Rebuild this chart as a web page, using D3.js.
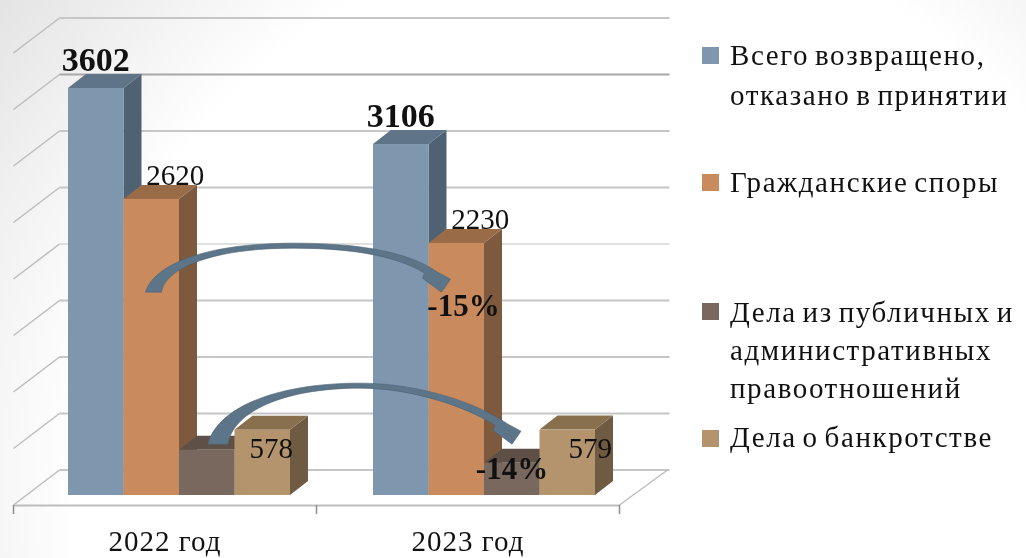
<!DOCTYPE html>
<html>
<head>
<meta charset="utf-8">
<script src="https://cdn.jsdelivr.net/npm/d3@7"></script>
<style>
  html, body { margin: 0; padding: 0; background: #fff; overflow: hidden; }
  svg { display: block; filter: blur(0.6px); }
  text { font-family: "Liberation Serif", serif; fill: #111; }
</style>
</head>
<body>
<div id="chart"></div>
<script>
// chart values
const years = ["2022 год", "2023 год"];
const seriesNames = ["total", "civil", "admin", "bankrupt"];
const total = [3602, 3106];
const civil = [2620, 2230];
const admin = [400, 285];
const bankrupt = [578, 579];
const yTicks = [0, 500, 1000, 1500, 2000, 2500, 3000, 3500, 4000];
const legendLines = [
    ["Всего возвращено,", "отказано в принятии"],
    ["Гражданские споры"],
    ["Дела из публичных и", "административных", "правоотношений"],
    ["Дела о банкротстве"]
];
const changeLabels = ["-15%", "-14%"];

const width = 1026, height = 558;
const values = [total, civil, admin, bankrupt];

// colours per series: front, top, side
const colors = [
    ["#7e97af", "#5f7489", "#4f6273"],
    ["#c98b5e", "#9a6b47", "#7d5a3d"],
    ["#78685d", "#5e5047", "#5e5047"],
    ["#b3946d", "#88704f", "#6f5b41"]
];

const svg = d3.select("#chart")
    .append("svg")
    .attr("width", width)
    .attr("height", height);

// background
const grad = svg.append("defs").append("radialGradient")
    .attr("id", "bg")
    .attr("gradientUnits", "userSpaceOnUse")
    .attr("cx", 620).attr("cy", 480).attr("r", 780);
grad.append("stop").attr("offset", "0.7").attr("stop-color", "#ffffff");
grad.append("stop").attr("offset", "1").attr("stop-color", "#e4e4e4");
svg.append("rect").attr("width", width).attr("height", height).attr("fill", "url(#bg)");

// scales
const axisLeft = 13.5, axisRight = 619.5, floorY = 505;
const wallDx = 46, wallDy = 35;
const barDx = 18, barDy = 14;

const xAxisBand = d3.scaleBand().domain(years).range([axisLeft, axisRight]);
const x0 = d3.scaleBand().domain(years).range([14, 624]);
const x1 = d3.scaleBand().domain(seriesNames).range([54, 276]);
const y = d3.scaleLinear().domain([0, 4000]).range([495, 43]);
const wallY = v => y(v) - 25;

// wall grid lines
const grid = svg.append("g");
grid.selectAll(".back")
    .data(yTicks)
    .join("line")
    .attr("x1", axisLeft + wallDx)
    .attr("x2", axisRight + 50)
    .attr("y1", wallY)
    .attr("y2", wallY)
    .attr("stroke", d => d === 3500 ? "#a8a8a8" : (d === 2000 ? "#e0e0e0" : "#c6c6c6"))
    .attr("stroke-width", 2);
grid.selectAll(".side")
    .data(yTicks)
    .join("line")
    .attr("x1", axisLeft)
    .attr("x2", axisLeft + wallDx)
    .attr("y1", d => wallY(d) + wallDy)
    .attr("y2", wallY)
    .attr("stroke", "#bdbdbd")
    .attr("stroke-width", 1.5);

// floor right edge
svg.append("line")
    .attr("x1", axisRight).attr("y1", floorY)
    .attr("x2", axisRight + 48).attr("y2", floorY - wallDy)
    .attr("stroke", "#bdbdbd").attr("stroke-width", 1.5);

// x axis, labels come from the band scale, ticks sit on the band edges
const xAxis = svg.append("g")
    .attr("transform", "translate(0," + floorY + ")")
    .call(d3.axisBottom(xAxisBand).tickSize(0).tickPadding(25));
xAxis.select(".domain").attr("stroke", "#bdbdbd").attr("stroke-width", 2);
xAxis.selectAll("text")
    .style("font-size", "29px")
    .style("font-family", "Liberation Serif")
    .style("letter-spacing", "1px");
xAxis.selectAll(".edge")
    .data([axisLeft, xAxisBand(years[1]), axisRight])
    .join("line")
    .attr("x1", d => d).attr("x2", d => d)
    .attr("y1", 0).attr("y2", 9)
    .attr("stroke", "#8c8c8c").attr("stroke-width", 1.5);

// bars
const bars = [];
years.forEach((year, i) => {
    seriesNames.forEach((s, j) => {
        bars.push({ year, s, j, value: values[j][i] });
    });
});
const barX = d => x0(d.year) + x1(d.s);
const w = x1.bandwidth();
const bar = svg.selectAll(".bar")
    .data(bars)
    .join("g")
    .attr("class", "bar");

// side face
bar.append("path")
    .attr("fill", d => colors[d.j][2])
    .attr("d", d => {
        const xr = barX(d) + w;
        return d3.line()([[xr, y(d.value)], [xr + barDx, y(d.value) - barDy], [xr + barDx, y(0) - barDy], [xr, y(0)]]) + "Z";
    });
// top face
bar.append("path")
    .attr("fill", d => colors[d.j][1])
    .attr("d", d => {
        const xl = barX(d);
        return d3.line()([[xl, y(d.value)], [xl + barDx, y(d.value) - barDy], [xl + w + barDx, y(d.value) - barDy], [xl + w, y(d.value)]]) + "Z";
    });
// front face
bar.append("rect")
    .attr("x", barX)
    .attr("y", d => y(d.value))
    .attr("width", w)
    .attr("height", d => y(0) - y(d.value))
    .attr("fill", d => colors[d.j][0]);

// value labels, the third series has none in the picture
const labelOffset = {
    total: { dx: 0, dy: -17, size: 34, weight: "bold" },
    civil: { dx: 24, dy: -14, size: 29, weight: "normal" },
    bankrupt: { dx: 9, dy: 28, size: 29, weight: "normal" }
};
svg.selectAll(".value")
    .data(bars.filter(d => d.s !== "admin"))
    .join("text")
    .attr("class", "value")
    .attr("text-anchor", "middle")
    .attr("x", d => barX(d) + w / 2 + (d.s === "bankrupt" && d.year === years[1] ? 23 : labelOffset[d.s].dx))
    .attr("y", d => y(d.value) + labelOffset[d.s].dy)
    .style("font-size", d => labelOffset[d.s].size + "px")
    .style("font-weight", d => labelOffset[d.s].weight)
    .text(d => d.value);

// curved arrows between the two years
function arrowPath(s, e, rise, base) {
    const top = s[1] - rise;
    const mid = s[0] + (e[0] - s[0]) * 0.5;
    return "M" + s[0] + "," + s[1]
        + " C" + (s[0] + 8) + "," + (s[1] - rise * 0.55) + " " + (mid - 90) + "," + top + " " + mid + "," + top
        + " C" + (mid + 56) + "," + top + " " + (e[0] - 37) + "," + (e[1] - 43) + " " + (e[0] - 4) + "," + (e[1] - 20)
        + " L" + (e[0] + 9) + "," + (e[1] - 13)
        + " L" + e[0] + "," + e[1]
        + " L" + (e[0] - 19) + "," + (e[1] - 14)
        + " L" + (e[0] - 17) + "," + (e[1] - 19)
        + " C" + (e[0] - 47) + "," + (e[1] - 38) + " " + (mid + 51) + "," + (top + 5) + " " + mid + "," + (top + 5)
        + " C" + (mid - 80) + "," + (top + 5) + " " + (s[0] + base + 4) + "," + (s[1] - rise * 0.5) + " " + (s[0] + base) + "," + s[1]
        + "Z";
}
const arrows = [
    { from: [x0(years[0]) + x1("civil") + 22, y(1795)], to: [x0(years[1]) + x1("civil") + 13, y(1795)], rise: 49, base: 16 },
    { from: [x0(years[0]) + x1("admin") + 29, y(450)], to: [x0(years[1]) + x1("admin") + 28, y(450)], rise: 61, base: 20 }
];
svg.selectAll(".arrow")
    .data(arrows)
    .join("path")
    .attr("class", "arrow")
    .attr("d", d => arrowPath(d.from, d.to, d.rise, d.base))
    .attr("fill", "#5d7588")
    .attr("stroke", "#4d6374")
    .attr("stroke-width", 0.6);

// change labels under the arrow heads
svg.selectAll(".change")
    .data(arrows)
    .join("text")
    .attr("class", "change")
    .attr("text-anchor", "middle")
    .attr("x", d => d.to[0] + 22 - (d.rise > 50 ? 22 : 0))
    .attr("y", (d, i) => d.to[1] + (i === 0 ? 24 : 35))
    .style("font-size", "31px")
    .style("font-weight", "bold")
    .text((d, i) => changeLabels[i]);

// legend
const legendTop = [47, 174, 303, 430];
const legendBase = [[65, 105], [192], [322, 360, 398], [447]];
const legend = svg.selectAll(".legend")
    .data(legendLines)
    .join("g")
    .attr("class", "legend");
legend.append("rect")
    .attr("x", 702)
    .attr("y", (d, i) => legendTop[i])
    .attr("width", 17)
    .attr("height", 17)
    .attr("fill", (d, i) => colors[i][0]);
legend.each(function (lines, i) {
    d3.select(this).selectAll("text")
        .data(lines)
        .join("text")
        .attr("x", 730)
        .attr("y", (d, k) => legendBase[i][k])
        .style("font-size", "29px")
        .style("letter-spacing", "1.6px")
        .style("word-spacing", "-3px")
        .text(d => d);
});
</script>
</body>
</html>
